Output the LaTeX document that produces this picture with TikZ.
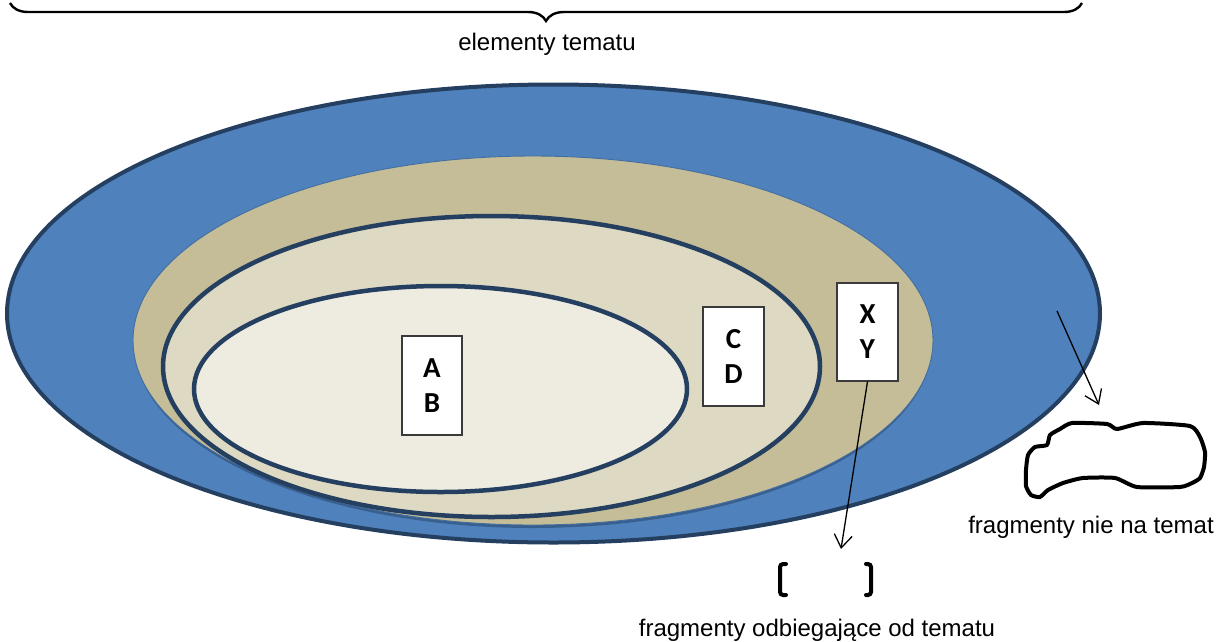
\documentclass[tikz,border=0pt]{standalone}
\usepackage{fontspec}
\setmainfont{Liberation Sans}
\newfontfamily\calib{Carlito}
\usetikzlibrary{arrows.meta,decorations.pathreplacing}
\definecolor{edge}{HTML}{243F60}
\definecolor{outerblue}{HTML}{4F81BD}
\definecolor{tan}{HTML}{C4BD97}
\definecolor{midtan}{HTML}{DDD9C3}
\definecolor{innertan}{HTML}{EEECE1}
\definecolor{boxedge}{HTML}{3A3A3A}
\tikzset{
  letterbox/.style={draw=boxedge, line width=1.2pt, fill=white, inner sep=0pt,
    minimum width=60pt, minimum height=98pt, align=center,
    font=\calib\bfseries\fontsize{29}{35}\selectfont},
  caption/.style={font=\fontsize{24}{28}\selectfont, anchor=base, inner sep=0pt},
  pointer/.style={line width=1.3pt, -{Straight Barb[length=13pt,width=18pt,line width=1.3pt]}},
  bracketline/.style={line width=4pt, rounded corners=3pt, line cap=round},
}
\begin{document}
\begin{tikzpicture}[x=1pt,y=-1pt]
\useasboundingbox (0,0) rectangle (1227,641);
% outer ellipse
\draw[edge, line width=4pt, fill=outerblue] (553.5,313.5) ellipse [x radius=546.5pt, y radius=229pt];
% shadow of tan ellipse
\fill[edge, opacity=0.5] (533,343.5) ellipse [x radius=399pt, y radius=184.5pt];
% tan ellipse
\draw[draw=outerblue!85!black, line width=0.9pt, fill=tan] (533,340.5) ellipse [x radius=400pt, y radius=184.5pt];
% middle ellipse
\draw[edge, line width=4.5pt, fill=midtan] (491.5,366.5) ellipse [x radius=328.5pt, y radius=150.5pt];
% inner ellipse
\draw[edge, line width=4.5pt, fill=innertan] (440.5,389) ellipse [x radius=246.5pt, y radius=103pt];
% boxes
\node[letterbox, minimum height=99pt] (ab) at (432,385.5) {A\\B};
\node[letterbox, minimum width=61pt, minimum height=99pt] (cd) at (733.5,356.5) {C\\D};
\node[letterbox, minimum width=61pt] (xy) at (867.5,332) {X\\Y};
% brace
\coordinate (bl) at (10,3);
\coordinate (br) at (1082,3);
\draw[line width=2.4pt, decorate, decoration={brace, mirror, amplitude=18pt}] (bl) -- (br);
\node[caption] (elem) at (547,50) {elementy tematu};
% blob
\node[inner sep=0pt, minimum size=0pt] (blob) at (1115,460) {};
\draw[line width=4pt, line join=round] plot[smooth cycle, tension=0.35] coordinates {
 (1072,423) (1107,424) (1117,429) (1143,423) (1190,426) (1200,437) (1205,452)
 (1204,467) (1200,478) (1192,483) (1180,487) (1137,487) (1115,478) (1083,478)
 (1063,483) (1048,490) (1040,497) (1031,495) (1026,486) (1026,470) (1028,455)
 (1035,447) (1047,445) (1050,435) (1060,429)};
\node[caption] (nie) at (1091,533) {fragmenty nie na temat};
% arrows
\coordinate (blueend) at (1057,311);
\coordinate (blobtip) at (1099,405);
\draw[pointer] (blueend) -- (blobtip);
\coordinate (bracktip) at (841,549);
\draw[pointer] (xy.south) -- (bracktip);
% brackets
\node[inner sep=0pt, minimum size=0pt] (brk) at (825,580) {};
\draw[bracketline] (786,564) -- (780,564) -- (780,595) -- (786,595);
\draw[bracketline] (866,564) -- (871,564) -- (871,595) -- (866,595);
\node[caption] (odb) at (817,636) {fragmenty odbiegające od tematu};
\end{tikzpicture}
\end{document}
